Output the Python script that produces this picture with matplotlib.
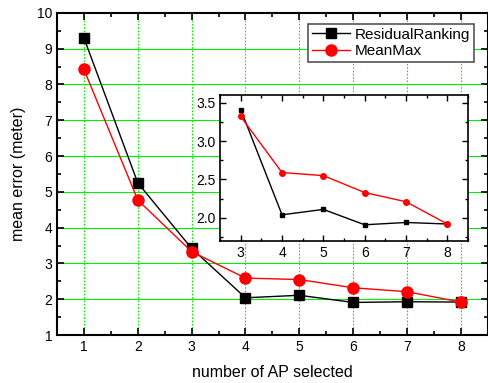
import numpy as np
import matplotlib
matplotlib.use('Agg')
import matplotlib.pyplot as plt
from matplotlib.ticker import MultipleLocator

plt.rcParams['font.family'] = ['Liberation Sans', 'DejaVu Sans']

# data
n_ap = [1, 2, 3, 4, 5, 6, 7, 8]
residual = [9.30, 5.25, 3.42, 2.04, 2.11, 1.91, 1.93, 1.92]
meanmax = [8.42, 4.77, 3.33, 2.59, 2.55, 2.32, 2.21, 1.92]

inset_n = [3, 4, 5, 6, 7, 8]
inset_residual = [3.41, 2.04, 2.11, 1.91, 1.94, 1.92]
inset_meanmax = [3.32, 2.59, 2.55, 2.33, 2.21, 1.92]

fig = plt.figure(figsize=(4.89, 3.83), dpi=100)
ax = fig.add_axes([0.1166, 0.1253, 0.881, 0.841])

# grid: solid horizontal, dotted vertical
for y in range(2, 10):
    ax.axhline(y, color='#00f000', lw=0.8, zorder=0)
for x in n_ap:
    ax.axvline(x, color='#00f000', lw=0.8, ls=(0, (1.5, 1.5)), zorder=0)

ax.plot(n_ap, residual, '-s', color='black', lw=1, ms=7, label='ResidualRanking')
ax.plot(n_ap, meanmax, '-o', color='red', lw=1, ms=8, label='MeanMax')

ax.set_xlim(0.5, 8.5)
ax.set_ylim(1, 10)
ax.xaxis.set_major_locator(MultipleLocator(1))
ax.xaxis.set_minor_locator(MultipleLocator(0.5))
ax.yaxis.set_major_locator(MultipleLocator(1))
ax.yaxis.set_minor_locator(MultipleLocator(0.5))
ax.tick_params(which='both', direction='in', top=True, right=True, labelsize=10, width=1.2)
ax.tick_params(which='major', length=5)
ax.tick_params(which='minor', length=3)
for s in ax.spines.values():
    s.set_linewidth(1.5)

ax.set_xlabel('number of AP selected', fontsize=11.5, labelpad=8)
ax.set_ylabel('mean error (meter)', fontsize=11.5, labelpad=8)

leg = ax.legend(loc='upper right', bbox_to_anchor=(0.985, 0.99), fontsize=11,
                fancybox=False, framealpha=1, edgecolor='#555555',
                handlelength=2.5, borderpad=0.25, labelspacing=0.15, handletextpad=0.3)
leg.get_frame().set_linewidth(1.2)

# inset
ins = fig.add_axes([0.450, 0.371, 0.507, 0.381])
ins.plot(inset_n, inset_residual, '-s', color='black', lw=1, ms=3.5)
ins.plot(inset_n, inset_meanmax, '-o', color='red', lw=1, ms=4)
ins.set_xlim(2.5, 8.5)
ins.set_ylim(1.7, 3.6)
ins.xaxis.set_major_locator(MultipleLocator(1))
ins.xaxis.set_minor_locator(MultipleLocator(0.5))
ins.yaxis.set_major_locator(MultipleLocator(0.5))
ins.yaxis.set_minor_locator(MultipleLocator(0.25))
ins.tick_params(which='both', direction='in', top=True, right=True, labelsize=10, width=1)
ins.tick_params(which='major', length=4)
ins.tick_params(which='minor', length=2.5)
ins.yaxis.set_major_formatter(plt.FormatStrFormatter('%.1f'))
for s in ins.spines.values():
    s.set_linewidth(1.2)

fig.savefig('out.png', dpi=100)
